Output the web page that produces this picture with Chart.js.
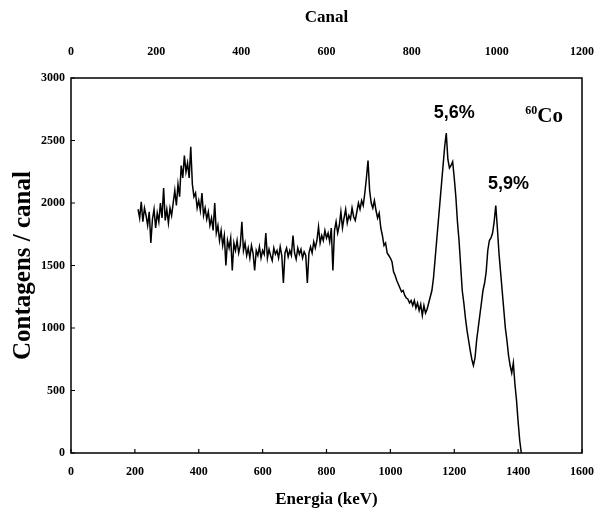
<!DOCTYPE html>
<html>
<head>
<meta charset="utf-8">
<script src="https://cdn.jsdelivr.net/npm/chart.js@4/dist/chart.umd.min.js"></script>
<style>
html,body{margin:0;padding:0;background:#fff;}
#wrap{width:601px;height:521px;position:relative;}
</style>
</head>
<body>
<div id="wrap"><canvas id="c" width="601" height="521"></canvas></div>
<script>
// Energy (keV) of each sample
const energies = [
 210,215,220,225,230,235,240,245,250,255,260,265,270,275,280,285,290,295,300,305,
 310,315,320,325,330,335,340,345,350,355,360,365,370,375,380,385,390,395,400,405,
 410,415,420,425,430,435,440,445,450,455,460,465,470,475,480,485,490,495,500,505,
 510,515,520,525,530,535,540,545,550,555,560,565,570,575,580,585,590,595,600,605,
 610,615,620,625,630,635,640,645,650,655,660,665,670,675,680,685,690,695,700,705,
 710,715,720,725,730,735,740,745,750,755,760,765,770,775,780,785,790,795,800,805,
 810,815,820,825,830,835,840,845,850,855,860,865,870,875,880,885,890,895,900,905,
 910,915,920,925,930,935,940,945,950,955,960,965,970,975,980,985,990,995,1000,1005,
 1010,1015,1020,1025,1030,1035,1040,1045,1050,1055,1060,1065,1070,1075,1080,1085,1090,1095,1100,1105,
 1110,1115,1120,1125,1130,1135,1140,1145,1150,1155,1160,1165,1170,1175,1180,1185,1190,1195,1200,1205,
 1210,1215,1220,1225,1230,1235,1240,1245,1250,1255,1260,1265,1270,1275,1280,1285,1290,1295,1300,1305,
 1310,1315,1320,1325,1330,1335,1340,1345,1350,1355,1360,1365,1370,1375,1380,1385,1390,1395,1400,1405,
 1410
];
// Counts per channel
const counts = [
 1950,1880,2010,1850,1960,1900,1820,1930,1680,1870,1950,1800,1920,1850,2000,1880,2120,1860,1950,1840,
 1960,1900,2000,2100,1980,2150,2050,2300,2200,2380,2250,2320,2200,2450,2150,2050,2080,1960,2020,1940,
 2080,1900,1960,1870,1930,1820,1880,1780,2000,1760,1820,1700,1780,1660,1740,1500,1700,1640,1720,1460,
 1680,1620,1700,1600,1660,1850,1620,1680,1580,1640,1560,1660,1600,1460,1620,1580,1650,1560,1620,1590,
 1760,1560,1630,1580,1540,1640,1590,1620,1560,1650,1580,1360,1600,1640,1570,1620,1580,1740,1600,1550,
 1640,1590,1630,1560,1610,1580,1360,1600,1650,1600,1690,1640,1700,1810,1680,1740,1700,1780,1720,1760,
 1690,1800,1460,1780,1850,1760,1820,1930,1800,1880,1950,1840,1900,1870,1960,1890,1860,1930,2000,1950,
 2020,1980,2080,2200,2340,2100,2000,1960,2020,1940,1880,1920,1800,1740,1660,1680,1600,1580,1560,1530,
 1450,1420,1380,1350,1320,1290,1300,1260,1240,1230,1200,1220,1180,1220,1160,1200,1140,1190,1100,1180,
 1120,1150,1200,1250,1300,1400,1550,1700,1850,2000,2150,2300,2450,2560,2350,2280,2300,2330,2200,2050,
 1850,1700,1500,1300,1200,1080,980,900,820,750,700,760,900,1000,1100,1200,1300,1360,1450,1620,
 1700,1720,1760,1850,1980,1800,1600,1450,1300,1150,1000,900,780,700,640,720,550,420,250,100,
 0
];
const energyTicks = [0,200,400,600,800,1000,1200,1400,1600];
const channelTicks = [0,200,400,600,800,1000,1200];
const countTicks = [0,500,1000,1500,2000,2500,3000];
const peakLabels = [
  {text:'5,6%', e:1200, c:2720},
  {text:'5,9%', e:1370, c:2150}
];

const points = energies.map((e,i)=>({x:e, y:counts[i]}));
const serifBold = {family:'"Liberation Serif", "Times New Roman", serif', weight:'bold', size:12};
const plain = v => String(v);

const framePlugin = {
  id:'frame',
  afterDatasetsDraw(chart){
    const {ctx, chartArea:a, scales} = chart;
    ctx.save();
    ctx.strokeStyle='#000';
    ctx.lineWidth=1.5;
    ctx.strokeRect(a.left, a.top, a.right-a.left, a.bottom-a.top);
    ctx.lineWidth=1.2;
    ctx.beginPath();
    energyTicks.forEach(v=>{
      const px = scales.x.getPixelForValue(v);
      ctx.moveTo(px, a.bottom); ctx.lineTo(px, a.bottom-4);
    });
    countTicks.forEach(v=>{
      const py = scales.y.getPixelForValue(v);
      ctx.moveTo(a.left, py); ctx.lineTo(a.left+4, py);
    });
    ctx.stroke();
    // annotations
    ctx.fillStyle='#000';
    ctx.textAlign='center';
    ctx.textBaseline='middle';
    ctx.font='bold 18px "Liberation Sans", Arial, sans-serif';
    peakLabels.forEach(p=>{
      ctx.fillText(p.text, scales.x.getPixelForValue(p.e), scales.y.getPixelForValue(p.c));
    });
    const cx = scales.x.getPixelForValue(1460), cy = scales.y.getPixelForValue(2690);
    ctx.font='bold 21px "Liberation Serif", "Times New Roman", serif';
    ctx.textAlign='left';
    ctx.fillText('Co', cx, cy);
    ctx.font='bold 12px "Liberation Serif", "Times New Roman", serif';
    ctx.textAlign='right';
    ctx.fillText('60', cx, cy-6);
    ctx.restore();
  }
};

function fixX(h){
  return function(s){ s.height = h; s.paddingLeft = 0; s.paddingRight = 0; };
}

new Chart(document.getElementById('c'), {
  type:'line',
  data:{datasets:[{data:points, borderColor:'#000', borderWidth:1.5, pointRadius:0, tension:0, fill:false}]},
  options:{
    responsive:false, animation:false,
    layout:{padding:{left:0,right:19,top:0,bottom:0}},
    plugins:{legend:{display:false}, tooltip:{enabled:false}},
    scales:{
      x:{type:'linear', position:'bottom', min:0, max:1600,
        afterBuildTicks(s){ s.ticks = energyTicks.map(v=>({value:v})); },
        afterFit: fixX(68),
        grid:{display:false, drawTicks:false},
        border:{display:false},
        ticks:{color:'#000', font:serifBold, padding:12, maxRotation:0, autoSkip:false, callback:plain},
        title:{display:true, text:'Energia (keV)', color:'#000',
          font:{family:'"Liberation Serif", "Times New Roman", serif', weight:'bold', size:17}, padding:{top:0,bottom:11}}
      },
      x2:{type:'linear', position:'top', min:0, max:1200,
        afterBuildTicks(s){ s.ticks = channelTicks.map(v=>({value:v})); },
        afterFit: fixX(78),
        grid:{display:false, drawTicks:false},
        border:{display:false},
        ticks:{color:'#000', font:serifBold, padding:19, maxRotation:0, autoSkip:false, callback:plain},
        title:{display:true, text:'Canal', color:'#000',
          font:{family:'"Liberation Serif", "Times New Roman", serif', weight:'bold', size:17}, padding:{top:7,bottom:0}}
      },
      y:{type:'linear', position:'left', min:0, max:3000,
        afterBuildTicks(s){ s.ticks = countTicks.map(v=>({value:v})); },
        afterFit(s){ s.width = 71; s.paddingTop = 0; s.paddingBottom = 0; },
        grid:{display:false, drawTicks:false},
        border:{display:false},
        ticks:{color:'#000', font:serifBold, padding:6, autoSkip:false, callback:plain},
        title:{display:true, text:'Contagens / canal', color:'#000',
          font:{family:'"Liberation Serif", "Times New Roman", serif', weight:'bold', size:25}, padding:{top:9,bottom:0}}
      }
    }
  },
  plugins:[framePlugin]
});
</script>
</body>
</html>
